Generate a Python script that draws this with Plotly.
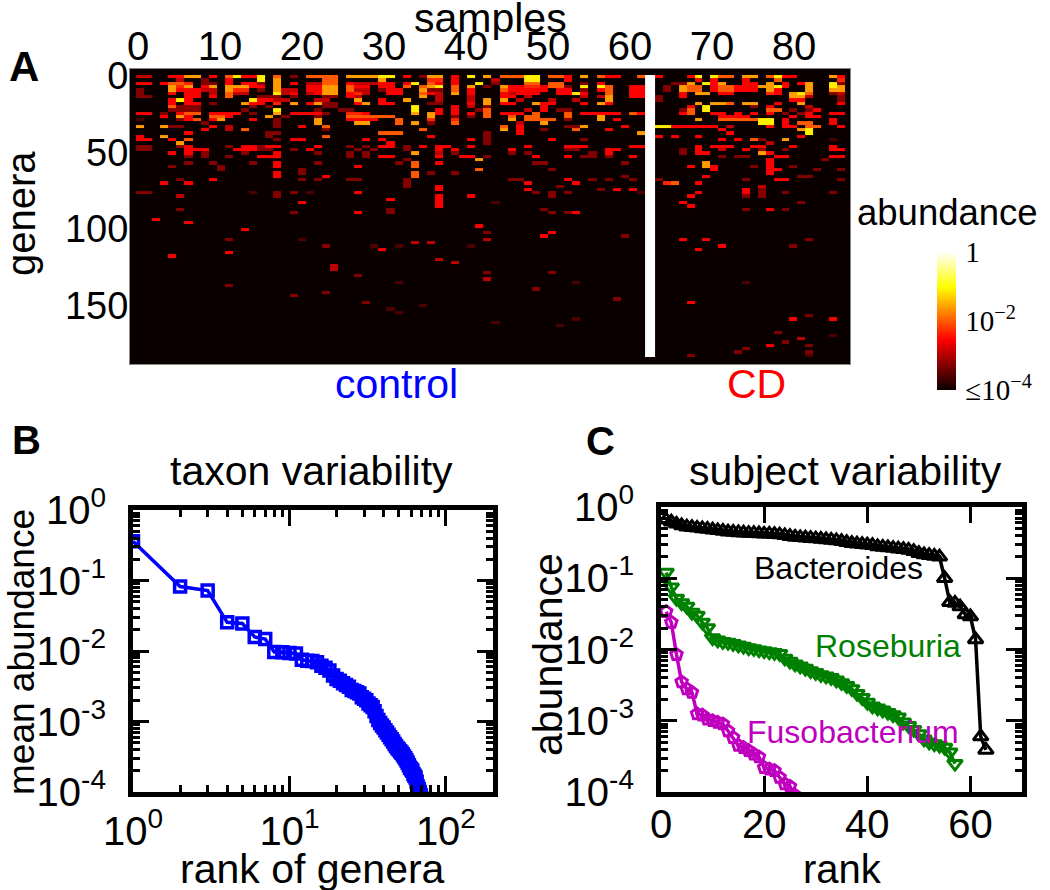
import numpy as np
import plotly.graph_objects as go

W, H = 1050, 890

# panel A: one string per row of cells, each char is a colour level, "." is below the scale
heat_rows = [
    "33..4477.4 .68448.6.2 .6666.7777 88.4.277.4 .8.7.66688 .664.7.644 ..6.4...48 .866.77.68 44....74",
    ".....3..2. .4...8.7.. ...66..... 7.....55.4 ....3...88 ...4...... .........4 .4...4...6 .......5",
    "44.4665.22 .4.442.7.4 .3366.4333 44.48.64.4 ..8.2...66 .66..2.4.. ......227. 847..44.7. 4.47..82",
    "....757.47 .77744.7.. .4477.644. 44.6.678.6 .7.2.74455 4662.8.86. .44..2.766 .466444778 4..7..87",
    "2...744433 .755.2.733 .4477.633. 244..722.6 .4...64444 4.44.2.46. .44..2.766 .466444.74 ...7..77",
    "2...4.44.3 .633...834 .3477.453. .44..643.7 .4...43444 ..4484..6. .44....4.7 7.44....54 .786..23",
    "22....44.4 .6...222.2 ...22.43.. .....7.3.. .3...44.3. .....3.37. .44.2..4.. .......... .773...2",
    "....484... ....84433. ..33...7.. 4..7...3.. .3.7.7.3.. .3..3...7. ....2..... .......... .44....2",
    "....4.44.2 ...744.5.7 .4722..47. 44....22.. .4.7.44..7 44...4.74. .........7 .776.77..4 ..7....4",
    "....6222.. ....2.2... ...22..... ....8....4 .3.2...... 4......... ........4. 8.....2.4. ...3....",
    "....2222.. ...2...8.. ..2..22... ....8..4.4 ..26....3. 4.22...... .......26. 8.......66 .2.24...",
    "44.2.466.4 444.2..7.4 4442..554. ....7.74.4 .4.6.444.6 ...6.44444 .64....46. .44.4.4.4. 2.24..44",
    "...4.74..6 64....7.2. ..2...6666 66....7..2 .2.6..6.66 ...6...7.. .......... ..4444.... .4.44...",
    "1....246.4 7...4..2.. ..7...4444 ..6...5..5 ......7.66 66.2...7.4 .........7 ..6666688. 4.....4.",
    "........2. .......2.. ..7....77. ..6.7.2..6 .......3.. 7......... .......... .......88. 4.66..4.",
    "7..722...4 .3.....2.. 4..6...... .......... .....6.4.. ...227.... 4...884444 44.3....4. 44.66..4",
    "........4. .3.6...... ...2...... .....6.... .....7.4.. 2...6...4. .......... ..4....... ..78....",
    "......4... ......22.. .......... 666....... ...2...4.. .......... ..7....... ...4...... ...8....",
    "4..7...... ......2... ...6...... ......4... ...2...... .......... ....4.4..4 .......... ..4.....",
    "44..4.6... .......2.4 4.......4. 4......... .4.2...... .4...2.... .......... ..4.4.62.. 7.....1.",
    ".....7.... .......... .......... .4........ ...2...... .......... .......... ........3. ........",
    "22...24... .2.44244.. ..4...2.2. 44.2.4.44. .4......4. ...444.... .44......4 .444..44.. .4....4.",
    "22....444. ..44422..2 .4.....2.2 ...2...4.4 ......4... ...22...44 .......2.4 ..3..4.2.. 2.....44",
    "....4.4.2. ...2...4.. ..2...2.2. ....7..3.2 ......2.2. ......2.4. .......2.4 4......74. ........",
    "......2.2. .2...444.. ......2.2. 44.....4.. 44.2.....4 ...4.22.2. .4........ ..2.22...4 4.....44",
    ".......... .......... .......... ...2...... ..7....... .......... .......... ........4. .....2..",
    "......2..2 ....2..4.. ..2....... ..2.6..4.. .........2 2......... 2......... 7.......4. ........",
    "....2..... 2......4.. .......4.. ....6..... .......... .......... ........4. 74....2.4. .2......",
    ".......... 2......... 2......... .......... ..6....... .2........ .......... .4......44 ....2..2",
    ".......... .......4.. 2......... ....6.2..2 .......... .......... .......... ........4. ........",
    ".......... .......4.. ...4...... ....6..... .......... .......... 2......... 4......... ..22....",
    ".....2...4 .......... 2.2...22.. ...2...... ......22.. ...4..2.2. .2..2..... .....2...4 4......2",
    "...4..4... .......... .......... ...2...... ........4. ....4..... .....56..4 .......... ........",
    ".......... .......... .......... ...2...4.. .......... ..2....... .......... .......3.. ........",
    ".......... .......... .......... .......4.. ........4. .......2.4 .4........ .....4.2.. ........",
    "22........ ....1..2.2 .1.....4.. .......... .........2 .2.2...... ..1......4 .....4.2.. 2.....2.",
    ".....3.... .......2.. .......... .......4.. .4........ .2........ ........4. .....2.2.. ........",
    ".......... .......... .......... .4.....4.. .......... .......... .......... .......... ........",
    ".......... .......... 4......... .......4.. ....1..... .......... .......4.. .......... ..2.....",
    ".......... .......... .......... .......4.. .......... .......... ........4. .......... ........",
    ".....2.... .......... .......... .2........ .......... 2......... .......... .....2..4. 2.......",
]
# the rare cells further down, listed one by one
low_rows = [41, 41, 41, 41, 41, 41, 43, 44, 45, 46, 47, 47, 48, 48, 49, 49, 49, 49, 49, 49, 50, 50, 51, 51, 51, 51, 51, 51,
            52, 52, 53, 54, 55, 56, 57, 58, 59, 59, 60, 61, 62, 62, 62, 63, 64, 65, 66, 67, 68, 68, 69, 70, 71, 72, 73, 73,
            73, 74, 75, 77, 78, 79, 80, 81, 81, 82, 83, 83, 84, 84]
low_samples = [19, 27, 31, 51, 53, 54, 2, 6, 42, 13, 43, 51, 50, 60, 11, 20, 43, 67, 70, 83, 34, 36, 23, 29, 32, 41, 72, 81,
               30, 69, 11, 4, 37, 39, 24, 24, 43, 51, 27, 43, 32, 54, 75, 11, 49, 23, 19, 59, 28, 68, 35, 31, 32, 83, 54, 81,
               86, 44, 52, 79, 86, 82, 80, 78, 83, 75, 74, 83, 68, 83]
low_levels = [2, 4, 2, 2, 2, 4, 4, 4, 4, 4, 2, 4, 4, 2, 2, 1, 3, 4, 4, 2, 3, 3, 2, 1, 1, 1, 4, 2,
              4, 4, 4, 4, 3, 3, 3, 3, 2, 2, 2, 3, 1, 1, 1, 2, 2, 2, 2, 2, 2, 4, 1, 1, 1, 2, 1, 4,
              4, 1, 1, 2, 1, 3, 2, 4, 2, 2, 2, 2, 2, 1]

level_log10 = [-4.0, -3.6, -3.28, -2.92, -2.56, -2.32, -2.0, -1.6, -1.12, -0.6]
white_sample = 63
n_samples = 88
n_rows = 85

sample_ticks = [0, 10, 20, 30, 40, 50, 60, 70, 80]
genera_ticks = [0, 50, 100, 150]

hot_scale = [[0, "rgb(10,0,0)"], [0.365, "rgb(255,0,0)"], [0.746, "rgb(255,255,0)"], [1, "rgb(255,255,255)"]]

# panel B
mean_abundance = [0.36, 0.082, 0.072, 0.0255, 0.0245, 0.0158, 0.0148, 0.0097, 0.0096, 0.0094, 0.0092, 0.0075, 0.0073,
                  0.0072, 0.0069, 0.0062, 0.0058, 0.0053, 0.0045, 0.0040, 0.0038, 0.0035, 0.0033, 0.0031, 0.0028, 0.0027,
                  0.0026, 0.0025, 0.0022, 0.0021, 0.0020, 0.0018, 0.0017, 0.0016, 0.0014, 0.0012, 0.00105, 0.00095,
                  0.00088, 0.00082, 0.00075, 0.0007, 0.00065, 0.0006, 0.00056, 0.00052, 0.00048, 0.00045, 0.00042, 0.0004,
                  0.00038, 0.00036, 0.00034, 0.00032, 0.0003, 0.00028, 0.00026, 0.00024, 0.00022, 0.00021, 0.0002, 0.00018,
                  0.00017, 0.00016, 0.00014, 0.00012, 0.00011, 0.0001, 0.00009, 0.00008]

# panel C
bacteroides = [0.66, 0.62, 0.58, 0.55, 0.53, 0.52, 0.51, 0.50, 0.49, 0.48, 0.47, 0.46, 0.45, 0.445, 0.44, 0.435, 0.43, 0.43,
               0.425, 0.42, 0.42, 0.415, 0.41, 0.40, 0.39, 0.38, 0.375, 0.37, 0.365, 0.36, 0.355, 0.35, 0.345, 0.34, 0.33,
               0.32, 0.31, 0.305, 0.30, 0.295, 0.29, 0.28, 0.275, 0.27, 0.265, 0.26, 0.255, 0.25, 0.24, 0.225, 0.215, 0.21,
               0.205, 0.20, 0.10, 0.046, 0.045, 0.040, 0.031, 0.029, 0.0138, 0.0006, 0.00039]
roseburia = [0.12, 0.075, 0.052, 0.045, 0.04, 0.033, 0.03, 0.024, 0.02, 0.0145, 0.0135, 0.0128, 0.0125, 0.012, 0.0115, 0.011,
             0.0105, 0.0102, 0.0098, 0.0095, 0.0092, 0.009, 0.0087, 0.0075, 0.0068, 0.0062, 0.0058, 0.0054, 0.005, 0.0047,
             0.0044, 0.0042, 0.004, 0.0037, 0.0034, 0.0031, 0.0028, 0.0024, 0.0021, 0.0018, 0.0016, 0.0015, 0.0014, 0.0013,
             0.0012, 0.00112, 0.00095, 0.00085, 0.00075, 0.00065, 0.00055, 0.0005, 0.00047, 0.00045, 0.00042, 0.00036, 0.00025]
fusobacterium = [0.034, 0.024, 0.0085, 0.0035, 0.0028, 0.0025, 0.00125, 0.0012, 0.00105, 0.001, 0.00095, 0.0009, 0.00072,
                 0.00058, 0.00045, 0.00042, 0.00038, 0.00034, 0.00031, 0.00022, 0.00021, 0.0002, 0.00016, 0.00013, 0.00012,
                 0.00009]

decades = [1e-4, 1e-3, 1e-2, 1e-1, 1]
decade_labels = ["10<sup>-4</sup>", "10<sup>-3</sup>", "10<sup>-2</sup>", "10<sup>-1</sup>", "10<sup>0</sup>"]


def px(x0, x1):
    return [x0 / W, x1 / W]


def py(y0, y1):
    return [1 - y1 / H, 1 - y0 / H]


z = np.full((n_rows, n_samples), level_log10[0])
for r, row in enumerate(heat_rows):
    chars = row.replace(" ", "").ljust(n_samples, ".")[:n_samples]
    for c, ch in enumerate(chars):
        if ch != ".":
            z[r, c] = level_log10[int(ch)]
for r, c, lev in zip(low_rows, low_samples, low_levels):
    z[r, c] = level_log10[lev]
z[:, white_sample] = 0  # the gap between control and CD

# cells sit a bit off the printed tick scale in the original
sample_edges = np.concatenate([np.linspace(-0.24, 61.83, 64), np.linspace(63.05, 86.2, 25)])
row_edges = np.linspace(-0.65, 183.7, n_rows + 1)

fig = go.Figure()
fig.add_trace(go.Heatmap(
    z=z, x=sample_edges, y=row_edges, zmin=-4, zmax=0, colorscale=hot_scale,
    xaxis="x", yaxis="y",
    colorbar=dict(
        x=937 / W, xanchor="left", xpad=0, y=1 - 321 / H, yanchor="middle", ypad=0,
        lenmode="pixels", len=138, thickness=19, outlinewidth=0,
        tickmode="array", tickvals=[-4, -2, 0], ticktext=["≤10<sup>−4</sup>", "10<sup>−2</sup>", "1"],
        ticks="outside", ticklen=4, tickcolor="rgba(0,0,0,0)",
        tickfont=dict(family="Liberation Serif", size=29, color="black"),
    ),
))

fig.add_trace(go.Scatter(
    x=list(range(1, len(mean_abundance) + 1)), y=mean_abundance, mode="lines+markers",
    line=dict(color="#0000ff", width=3.5),
    marker=dict(symbol="square-open", size=11, color="#0000ff", line=dict(width=3.5, color="#0000ff")),
    xaxis="x2", yaxis="y2", showlegend=False,
))

for vals, col, sym, size in [
    (bacteroides, "black", "triangle-up-open", 13),
    (roseburia, "#008000", "triangle-down-open", 13),
    (fusobacterium, "#bf00bf", "pentagon-open", 12),
]:
    fig.add_trace(go.Scatter(
        x=list(range(1, len(vals) + 1)), y=vals, mode="lines+markers",
        line=dict(color=col, width=3.5),
        marker=dict(symbol=sym, size=size, color=col, line=dict(width=3, color=col)),
        xaxis="x3", yaxis="y3", showlegend=False,
    ))

x_top, x_bottom = (130 - 138) / 8.2, (850 - 138) / 8.2
y_top, y_bottom = (69 - 76) / 1.53, (364 - 76) / 1.53
fig.add_shape(type="rect", xref="x", yref="y", x0=x_top, x1=x_bottom, y0=y_top, y1=y_bottom,
              fillcolor="rgb(10,0,0)", line_width=0, layer="below")

log_minor = [m * 10 ** e for e in range(-4, 0) for m in range(2, 10)]
rank_minor = [m * 10 ** e for e in range(0, 3) for m in range(2, 10) if m * 10 ** e < 200]
tick_style = dict(ticks="inside", ticklen=16, tickwidth=2.5, tickcolor="black", showline=True, linewidth=5,
                  linecolor="black", mirror="allticks", showgrid=False, zeroline=False, automargin=False,
                  tickfont=dict(size=40, color="black"))
minor_style = dict(ticks="inside", ticklen=7, tickwidth=2.5, tickcolor="black", showgrid=False)

fig.update_layout(
    width=W, height=H, margin=dict(l=0, r=0, t=0, b=0, autoexpand=False),
    paper_bgcolor="white", plot_bgcolor="white", showlegend=False,
    font=dict(family="Liberation Sans", size=40, color="black"),
    xaxis=dict(
        domain=px(130, 850), anchor="y", side="top", range=[x_top, x_bottom], automargin=False,
        tickmode="array", tickvals=sample_ticks, ticks="", ticklabelstandoff=-8,
        showgrid=False, zeroline=False, showline=True, linecolor="#888888", linewidth=1, mirror=True,
        tickfont=dict(size=40, color="black"),
    ),
    yaxis=dict(
        domain=py(69, 364), anchor="x", range=[y_bottom, y_top], automargin=False,
        tickmode="array", tickvals=genera_ticks, ticks="", ticklabelstandoff=-7,
        showgrid=False, zeroline=False, showline=True, linecolor="#888888", linewidth=1, mirror=True,
        tickfont=dict(size=38, color="black"),
    ),
    xaxis2=dict(
        domain=px(133, 493), anchor="y2", type="log", range=[0, 2.301],
        tickmode="array", tickvals=[1, 10, 100], ticktext=["10<sup>0</sup>", "10<sup>1</sup>", "10<sup>2</sup>"],
        minor=dict(tickmode="array", tickvals=rank_minor, **minor_style), **tick_style,
    ),
    yaxis2=dict(
        domain=py(510, 792), anchor="x2", type="log", range=[-4, 0],
        tickmode="array", tickvals=decades, ticktext=decade_labels, ticklabelstandoff=14,
        minor=dict(tickmode="array", tickvals=log_minor, **minor_style), **tick_style,
    ),
    xaxis3=dict(
        domain=px(661, 1022), anchor="y3", range=[0, 70],
        tickmode="array", tickvals=[0, 20, 40, 60], ticklabelstandoff=-7, **tick_style,
    ),
    yaxis3=dict(
        domain=py(507, 792), anchor="x3", type="log", range=[-4, 0],
        tickmode="array", tickvals=decades, ticktext=decade_labels, ticklabelstandoff=14,
        minor=dict(tickmode="array", tickvals=log_minor, **minor_style), **tick_style,
    ),
)


def label(text, x, y, size=40, color="black", angle=0, bold=False):
    fig.add_annotation(
        text=f"<b>{text}</b>" if bold else text, x=x / W, y=1 - y / H, xref="paper", yref="paper",
        xanchor="center", yanchor="middle", showarrow=False, textangle=angle,
        font=dict(size=size, color=color, family="Liberation Sans"),
    )


label("A", 24, 67, size=42, bold=True)
label("B", 26, 440, size=40, bold=True)
label("C", 600, 441, size=40, bold=True)
label("samples", 490, 18, size=41)
label("genera", 21, 214, angle=-90)
label("control", 396, 384, size=41, color="#0000ff")
label("CD", 756, 384, size=41, color="#ff0000")
label("abundance", 948, 212, size=36.5)
label("taxon variability", 311, 471, size=41)
label("subject variability", 845, 471, size=41)
label("mean abundance", 21, 652, size=37, angle=-90)
label("abundance", 548, 655, size=41, angle=-90)
label("rank of genera", 312, 869, size=41)
label("rank", 842, 869)
label("Bacteroides", 838, 568, size=32)
label("Roseburia", 888, 646, size=32, color="#008000")
label("Fusobacterium", 853, 732, size=32, color="#bf00bf")

fig.write_html("out.html", post_script="document.body.style.margin='0';", config=dict(displayModeBar=False))
